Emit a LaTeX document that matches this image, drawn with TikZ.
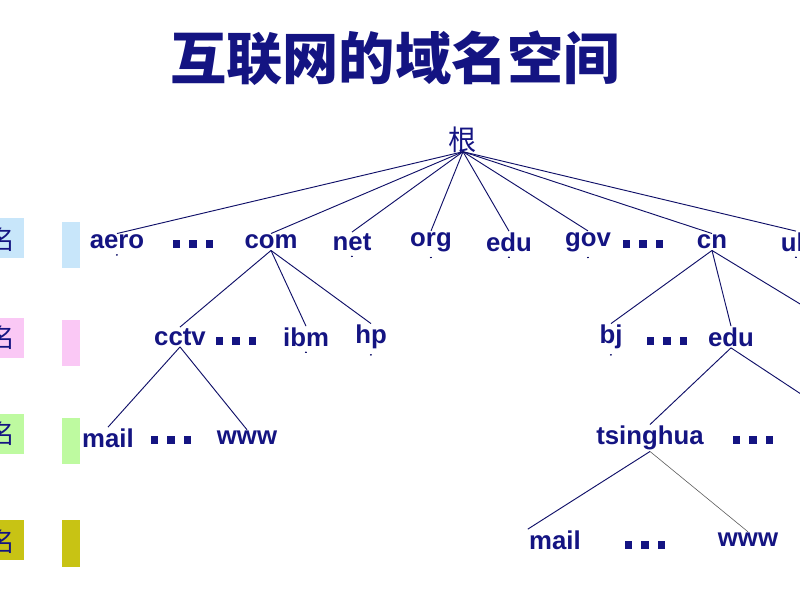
\documentclass[tikz,border=0pt]{standalone}
\usepackage{fontspec}
\setmainfont{Liberation Sans}
\newfontfamily\cjk{Noto Sans CJK SC}
\usepackage{tikz}
\definecolor{navy}{RGB}{20,20,130}
\definecolor{lvA}{RGB}{200,230,250}
\definecolor{lvB}{RGB}{250,200,245}
\definecolor{lvC}{RGB}{190,250,160}
\definecolor{lvD}{RGB}{200,195,20}
\newcommand{\sqdots}{\rule{6pt}{6pt}\hspace{8pt}\rule{6pt}{6pt}\hspace{8pt}\rule{6pt}{6pt}}
\tikzset{dom/.style={text=navy, font=\bfseries\fontsize{22}{24}\selectfont, inner sep=1pt},
  dd/.style={text=navy, inner sep=0pt},
  ln/.style={navy!80!black, line width=0.8pt}}
\newcommand{\fan}[1]{\foreach \d in {-29,-12,4,20} {\draw[ln] ([yshift=-4pt]#1.south) -- ++(\d*0.03,-0.5);}}

\begin{document}
\begin{tikzpicture}[x=0.3mm,y=-0.3mm]
\useasboundingbox (0,0) rectangle (800,600);
\clip (0,0) rectangle (800,600);

\node[text=navy, font=\cjk\bfseries\fontsize{48}{50}\selectfont] (title) at (395,58) {互联网的域名空间};

% level boxes
\fill[lvA] (-30,218) rectangle (24,258); \fill[lvA] (62,222) rectangle (80,268);
\fill[lvB] (-30,318) rectangle (24,358); \fill[lvB] (62,320) rectangle (80,366);
\fill[lvC] (-30,414) rectangle (24,454); \fill[lvC] (62,418) rectangle (80,464);
\fill[lvD] (-30,520) rectangle (24,560); \fill[lvD] (62,520) rectangle (80,567);
\foreach \y [count=\i] in {240,338,434,542}
  {\node[text=navy, font=\cjk\fontsize{22}{24}\selectfont] (ming\i) at (2,\y) {名};}

\node[text=navy, font=\cjk\fontsize{24}{26}\selectfont] (root) at (463,140) {根};

\node[dom] (aero) at (117,242) {aero};
\node[dd] (d1) at (193,244) {\sqdots};
\node[dom] (com) at (271,242) {com};
\node[dom] (net) at (352,242) {net};
\node[dom] (org) at (431,242) {org};
\node[dom] (edu) at (509,242) {edu};
\node[dom] (gov) at (588,242) {gov};
\node[dd] (d2) at (643,244) {\sqdots};
\node[dom] (cn) at (712,242) {cn};
\node[dom] (uk) at (796,242) {uk};

\node[dom] (cctv) at (180,337) {cctv};
\node[dd] (d3) at (236,341) {\sqdots};
\node[dom] (ibm) at (306,337) {ibm};
\node[dom] (hp) at (371,337) {hp};
\node[dom] (bj) at (611,337) {bj};
\node[dd] (d4) at (667,341) {\sqdots};
\node[dom] (cnedu) at (731,337) {edu};

\node[dom] (mailA) at (108,438) {mail};
\node[dd] (d5) at (171,440) {\sqdots};
\node[dom] (wwwA) at (247,438) {www};
\node[dom] (thu) at (650,438) {tsinghua};
\node[dd] (d6) at (753,440) {\sqdots};

\node[dom] (mailB) at (555,540) {mail};
\node[dd] (d7) at (645,545) {\sqdots};
\node[dom] (wwwB) at (748,540) {www};

\coordinate (cnR) at (810,310);
\coordinate (eduR) at (810,400);

\foreach \n in {aero,com,net,org,edu,gov,cn,uk}
  {\draw[ln] ([yshift=-10pt]root.center) -- (\n.north);}
\foreach \n in {aero,net,org,edu,gov,uk,ibm,hp,bj} {\fan{\n}}

\draw[ln] (com.south) -- (cctv.north);
\draw[ln] (com.south) -- (ibm.north);
\draw[ln] (com.south) -- (hp.north);
\draw[ln] (cctv.south) -- (mailA.north);
\draw[ln] (cctv.south) -- (wwwA.north);
\draw[ln] (cn.south) -- (bj.north);
\draw[ln] (cn.south) -- (cnedu.north);
\draw[ln] (cn.south) -- (cnR);
\draw[ln] (cnedu.south) -- (thu.north);
\draw[ln] (cnedu.south) -- (eduR);
\draw[ln] (thu.south) -- (mailB.north west);
\draw[gray!70!black, line width=0.5pt] (thu.south) -- (wwwB.north);
\end{tikzpicture}
\end{document}
